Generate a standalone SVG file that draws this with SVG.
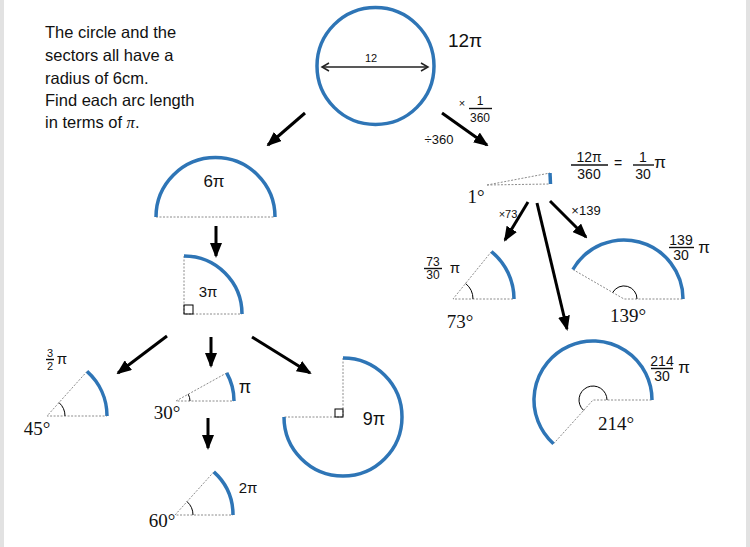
<svg xmlns="http://www.w3.org/2000/svg" width="750" height="547" viewBox="0 0 750 547">
<defs>
<marker id="ah" markerUnits="userSpaceOnUse" markerWidth="15" markerHeight="12" refX="13" refY="6" orient="auto" viewBox="0 0 15 12">
<path d="M0,0 L15,6 L0,12 z" fill="#000"/>
</marker>
<marker id="oh" markerUnits="userSpaceOnUse" markerWidth="10" markerHeight="10" refX="8" refY="5" orient="auto-start-reverse" viewBox="0 0 10 10">
<path d="M1,1 L8,5 L1,9" fill="none" stroke="#222" stroke-width="1.5"/>
</marker>
</defs>
<style>
.arc{fill:none;stroke:#2e75b6;stroke-width:3.5}
.dot{fill:none;stroke:#8c8c8c;stroke-width:1;stroke-dasharray:2 1.5}
.ang{fill:none;stroke:#000;stroke-width:1}
.arr{stroke:#000;stroke-width:3;marker-end:url(#ah)}
.txt{font-family:"Liberation Sans",Arial,sans-serif;font-size:16.5px;fill:#111}
.hw{font-family:"Liberation Sans",Arial,sans-serif;fill:#111;text-anchor:middle}
.deg{font-family:"Liberation Serif","Times New Roman",serif;font-size:19px;fill:#111;text-anchor:middle}
.bar{stroke:#111;stroke-width:1.4}
</style>
<rect width="750" height="547" fill="#fff"/>
<rect x="0" y="0" width="4" height="547" fill="#e2e2e2"/>
<rect x="746" y="0" width="4" height="547" fill="#e2e2e2"/>

<g id="intro">
<text class="txt" x="45" y="38">The circle and the</text>
<text class="txt" x="45" y="61">sectors all have a</text>
<text class="txt" x="45" y="84">radius of 6cm.</text>
<text class="txt" x="45" y="106">Find each arc length</text>
<text class="txt" x="45" y="128">in terms of <tspan font-family="Liberation Serif,serif" font-style="italic">π</tspan>.</text>
</g>

<g id="circle">
<circle cx="375.5" cy="66" r="58.5" class="arc"/>
<line x1="322" y1="67" x2="428" y2="67" stroke="#222" stroke-width="1.5" marker-start="url(#oh)" marker-end="url(#oh)"/>
<text class="hw" x="371" y="62" font-size="11">12</text>
<text class="hw" x="465" y="47" font-size="19">12π</text>
</g>

<g id="one-degree">
<path class="dot" d="M487,185 L550,173 M487,185 L550,184"/>
<path class="arc" d="M550,173 L550.5,184"/>
<text class="deg" x="476" y="203">1°</text>
<text class="hw" x="589" y="162" font-size="14">12π</text>
<line class="bar" x1="571" y1="165" x2="608" y2="165"/>
<text class="hw" x="589" y="179" font-size="14">360</text>
<text class="hw" x="618" y="168" font-size="14">=</text>
<text class="hw" x="643" y="162" font-size="14">1</text>
<line class="bar" x1="633" y1="165" x2="654" y2="165"/>
<text class="hw" x="643" y="179" font-size="14">30</text>
<text class="hw" x="660" y="168" font-size="17">π</text>
</g>

<g id="semicircle">
<path class="dot" d="M156,217 L275,217"/>
<path class="arc" d="M156,217 A59.5,59.5 0 0 1 275,217"/>
<text class="hw" x="214" y="187" font-size="17">6π</text>
</g>

<g id="quarter">
<path class="dot" d="M184,256 L184,314 L242,314"/>
<rect x="184" y="305" width="9" height="9" fill="none" stroke="#000" stroke-width="1"/>
<path class="arc" d="M184,256 A58,58 0 0 1 242,314"/>
<text class="hw" x="208" y="297" font-size="15">3π</text>
</g>

<g id="sector45">
<path class="dot" d="M87,371.4 L47,416 L107,416"/>
<path class="ang" d="M59,402.6 A18,18 0 0 1 65,416"/>
<path class="arc" d="M87,371.4 A60,60 0 0 1 107,416"/>
<text class="hw" x="50" y="357" font-size="11">3</text>
<line class="bar" x1="46" y1="359.5" x2="54" y2="359.5"/>
<text class="hw" x="50" y="369.5" font-size="11">2</text>
<text class="hw" x="62" y="364" font-size="15">π</text>
<text class="deg" x="37" y="435">45°</text>
</g>

<g id="sector30">
<path class="dot" d="M226.7,372.9 L176,401 L234,401"/>
<path class="ang" d="M188.2,394.2 A14,14 0 0 1 190,401"/>
<path class="arc" d="M226.7,372.9 A58,58 0 0 1 234,401"/>
<text class="hw" x="245" y="393" font-size="18">π</text>
<text class="deg" x="167" y="419">30°</text>
</g>

<g id="sector60">
<path class="dot" d="M213.8,471.9 L175,515 L233,515"/>
<path class="ang" d="M187,501.6 A18,18 0 0 1 193,515"/>
<path class="arc" d="M213.8,471.9 A58,58 0 0 1 233,515"/>
<text class="hw" x="248" y="493" font-size="15">2π</text>
<text class="deg" x="162" y="527">60°</text>
</g>

<g id="sector270">
<path class="dot" d="M343,358 L343,417 L284,417"/>
<rect x="335" y="409" width="8" height="8" fill="none" stroke="#000" stroke-width="1"/>
<path class="arc" d="M343,358 A59,59 0 1 1 284,417"/>
<text class="hw" x="374" y="425" font-size="18">9π</text>
</g>

<g id="sector73">
<path class="dot" d="M491.4,251.6 L453,299 L514,299"/>
<path class="ang" d="M465.6,283.5 A20,20 0 0 1 473,299"/>
<path class="arc" d="M491.4,251.6 A61,61 0 0 1 514,299"/>
<text class="hw" x="433" y="266" font-size="12">73</text>
<line class="bar" x1="424" y1="268.5" x2="442" y2="268.5"/>
<text class="hw" x="433" y="279" font-size="12">30</text>
<text class="hw" x="455" y="273" font-size="15">π</text>
<text class="deg" x="460" y="328">73°</text>
</g>

<g id="sector139">
<path class="dot" d="M572.9,269.5 L624,299 L683,299"/>
<path class="ang" d="M637,299 A13,13 0 0 0 612.7,292.5"/>
<path class="arc" d="M572.9,269.5 A59,59 0 0 1 683,299"/>
<text class="hw" x="681" y="245" font-size="14">139</text>
<line class="bar" x1="669" y1="247.5" x2="694" y2="247.5"/>
<text class="hw" x="681" y="260" font-size="14">30</text>
<text class="hw" x="704" y="253" font-size="17">π</text>
<text class="deg" x="628" y="322">139°</text>
</g>

<g id="sector214">
<path class="dot" d="M553.5,443.8 L593,400 L652,400"/>
<path class="ang" d="M607,400 A14,14 0 1 0 583.6,410.4"/>
<path class="arc" d="M652,400 A59,59 0 1 0 553.5,443.8"/>
<text class="hw" x="662" y="366" font-size="14">214</text>
<line class="bar" x1="651" y1="368.5" x2="673" y2="368.5"/>
<text class="hw" x="662" y="381" font-size="14">30</text>
<text class="hw" x="684" y="373" font-size="17">π</text>
<text class="deg" x="616" y="430">214°</text>
</g>

<g id="connectors">
<line class="arr" x1="305" y1="113" x2="268" y2="145"/>
<line class="arr" x1="442" y1="113" x2="487" y2="145"/>
<line class="arr" x1="216" y1="226" x2="216" y2="256"/>
<line class="arr" x1="167" y1="336" x2="118" y2="373"/>
<line class="arr" x1="211" y1="337" x2="211" y2="366"/>
<line class="arr" x1="252" y1="337" x2="310" y2="373"/>
<line class="arr" x1="208" y1="418" x2="208" y2="448"/>
<line class="arr" x1="528" y1="202" x2="505" y2="240"/>
<line class="arr" x1="537" y1="203" x2="567" y2="329"/>
<line class="arr" x1="550" y1="201" x2="586" y2="237"/>
<text class="hw" x="462" y="107" font-size="11">×</text>
<text class="hw" x="480" y="105" font-size="12">1</text>
<line class="bar" x1="469" y1="108.5" x2="492" y2="108.5"/>
<text class="hw" x="480" y="122" font-size="12">360</text>
<text class="hw" x="439" y="144" font-size="13">÷360</text>
<text class="hw" x="508" y="218" font-size="11">×73</text>
<text class="hw" x="586" y="215" font-size="13">×139</text>
</g>
</svg>
